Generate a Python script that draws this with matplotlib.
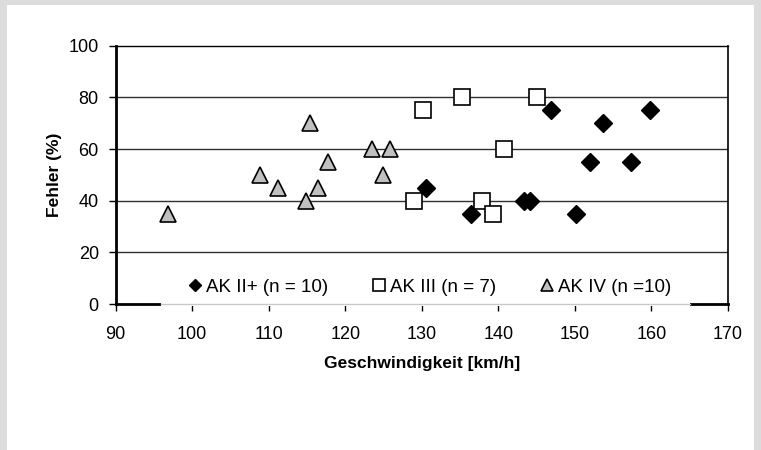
import matplotlib
matplotlib.use('Agg')
import matplotlib.pyplot as plt
from matplotlib.patches import Rectangle

plt.rcParams['font.family'] = ['Liberation Sans', 'DejaVu Sans']

# AK II+ (n = 10)
ak2_speed = [130.5, 136.4, 143.3, 144.2, 146.9, 150.1, 152.0, 153.7, 157.3, 159.8]
ak2_error = [45, 35, 40, 40, 75, 35, 55, 70, 55, 75]

# AK III (n = 7)
ak3_speed = [129.0, 130.2, 135.3, 137.9, 139.3, 140.7, 145.1]
ak3_error = [40, 75, 80, 40, 35, 60, 80]

# AK IV (n = 10)
ak4_speed = [96.9, 108.9, 111.2, 114.9, 115.4, 116.5, 117.8, 123.5, 125.0, 125.9]
ak4_error = [35, 50, 45, 40, 70, 45, 55, 60, 50, 60]

labels = ['AK II+ (n = 10)', 'AK III (n = 7)', 'AK IV (n =10)']
x_ticks = [90, 100, 110, 120, 130, 140, 150, 160, 170]
y_ticks = [0, 20, 40, 60, 80, 100]

fig = plt.figure(figsize=(7.61, 4.5), dpi=100)
fig.patch.set_facecolor('#dcdcdc')
fig.patches.append(Rectangle((7 / 761, 0), 747 / 761, 445 / 450, transform=fig.transFigure,
                             facecolor='white', edgecolor='none', zorder=-1))

ax = fig.add_axes([0.1518, 0.3244, 0.9566 - 0.1518, 0.8984 - 0.3244])
ax.set_facecolor('white')

for y in y_ticks[1:-1]:
    ax.axhline(y, color='#303030', lw=1, zorder=1)

ax.plot(ak2_speed, ak2_error, 'D', ms=8.8, color='black', mec='black', label=labels[0], zorder=3)
ax.plot(ak3_speed, ak3_error, 's', ms=11, mfc='white', mec='black', mew=1.2, label=labels[1], zorder=3)
ax.plot(ak4_speed, ak4_error, '^', ms=12, mfc='#c0c0c0', mec='black', mew=1.2, label=labels[2], zorder=3)

ax.set_xlim(90, 170)
ax.set_ylim(0, 100)
ax.set_xticks(x_ticks)
ax.set_yticks(y_ticks)
ax.tick_params(axis='both', direction='out', length=5, width=1, labelsize=13)
ax.tick_params(axis='x', pad=10.5)
ax.tick_params(axis='y', pad=7)

ax.spines['left'].set_linewidth(2)
ax.spines['bottom'].set_linewidth(2)
ax.spines['top'].set_linewidth(1)
ax.spines['right'].set_linewidth(1.2)
for s in ax.spines.values():
    s.set_color('black')

ax.set_xlabel('Geschwindigkeit [km/h]', fontsize=12.5, fontweight='bold', labelpad=9.5)
ax.set_ylabel('Fehler (%)', fontsize=12.5, fontweight='bold', labelpad=5)

# white legend area hiding the x axis line, which shows through in light gray
ax.add_patch(Rectangle((0.075, -0.006), 0.8625, 0.13, transform=ax.transAxes,
                       facecolor='white', edgecolor='none', zorder=4, clip_on=False))
ax.axhline(0, xmin=0.075, xmax=0.9375, color='#c8c8c8', lw=1, zorder=4.5, clip_on=False)

leg = ax.legend(loc='center', bbox_to_anchor=(0.513, 0.066), ncol=3, fontsize=13.5,
                frameon=False, markerscale=0.75, handlelength=0.8, handletextpad=0.2,
                columnspacing=2.3, borderpad=0.2, borderaxespad=0)
leg.set_zorder(5)

fig.savefig('out.png', dpi=100, facecolor=fig.get_facecolor())
